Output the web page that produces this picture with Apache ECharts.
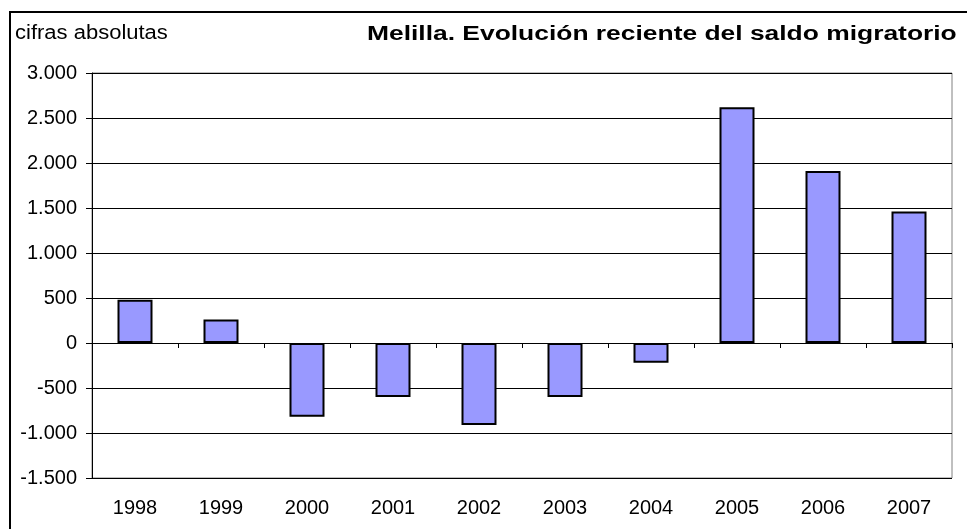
<!DOCTYPE html>
<html>
<head>
<meta charset="utf-8">
<script src="https://cdn.jsdelivr.net/npm/echarts@6/dist/echarts.min.js"></script>
<style>
html, body { margin: 0; padding: 0; background: #fff; }
#chart { width: 967px; height: 529px; }
</style>
</head>
<body>
<div id="chart"></div>
<script>
// datos
const years = ['1998', '1999', '2000', '2001', '2002', '2003', '2004', '2005', '2006', '2007'];
const saldo = [480, 260, -820, -600, -910, -600, -220, 2620, 1910, 1460];
const yMin = -1500;
const yMax = 3000;
const yStep = 500;

function fmtMiles(v) {
  const s = String(Math.abs(v)).replace(/\B(?=(\d{3})+(?!\d))/g, '.');
  return (v < 0 ? '-' : '') + s;
}

const chart = echarts.init(document.getElementById('chart'));
const option = {
  animation: false,
  textStyle: { fontFamily: 'Liberation Sans, Arial, sans-serif' },
  graphic: [
    {
      type: 'rect',
      shape: { x: 10, y: 12, width: 970, height: 530 },
      style: { fill: 'none', stroke: '#000', lineWidth: 2 },
      z: 0
    },
    {
      // el texto original está algo ensanchado
      type: 'text',
      x: 15,
      y: 23,
      scaleX: 1.1,
      style: { text: 'cifras absolutas', font: '20px "Liberation Sans", Arial, sans-serif', fill: '#000', textVerticalAlign: 'top' }
    },
    {
      type: 'text',
      x: 367,
      y: 24,
      scaleX: 1.32,
      style: { text: 'Melilla. Evolución reciente del saldo migratorio', font: 'bold 20px "Liberation Sans", Arial, sans-serif', fill: '#000', textVerticalAlign: 'top' }
    }
  ],
  grid: {
    left: 92, top: 73, width: 860, height: 405,
    show: true, borderColor: '#808080', borderWidth: 1, backgroundColor: '#fff'
  },
  xAxis: [
    {
      type: 'category',
      data: years,
      position: 'bottom',
      axisLine: { show: false, onZero: false },
      axisTick: { show: false },
      axisLabel: { color: '#000', fontSize: 20, margin: 20 }
    },
    {
      // eje en el cero, sólo con marcas
      type: 'category',
      data: years,
      position: 'bottom',
      axisLine: { show: true, onZero: true, lineStyle: { color: '#000', width: 1 } },
      axisTick: { show: true, interval: 0, length: 5, lineStyle: { color: '#000' } },
      axisLabel: { show: false }
    }
  ],
  yAxis: {
    type: 'value',
    min: yMin,
    max: yMax,
    interval: yStep,
    axisLine: { show: true, lineStyle: { color: '#000', width: 1 } },
    axisTick: { show: true, length: 6, lineStyle: { color: '#000' } },
    axisLabel: { color: '#000', fontSize: 20, margin: 15, formatter: fmtMiles },
    splitLine: { show: true, lineStyle: { color: '#000', width: 1 } }
  },
  series: [
    {
      type: 'bar',
      data: saldo,
      barWidth: 35,
      itemStyle: { color: '#9999ff', borderColor: '#000', borderWidth: 2 }
    }
  ]
};
chart.setOption(option);
</script>
</body>
</html>
